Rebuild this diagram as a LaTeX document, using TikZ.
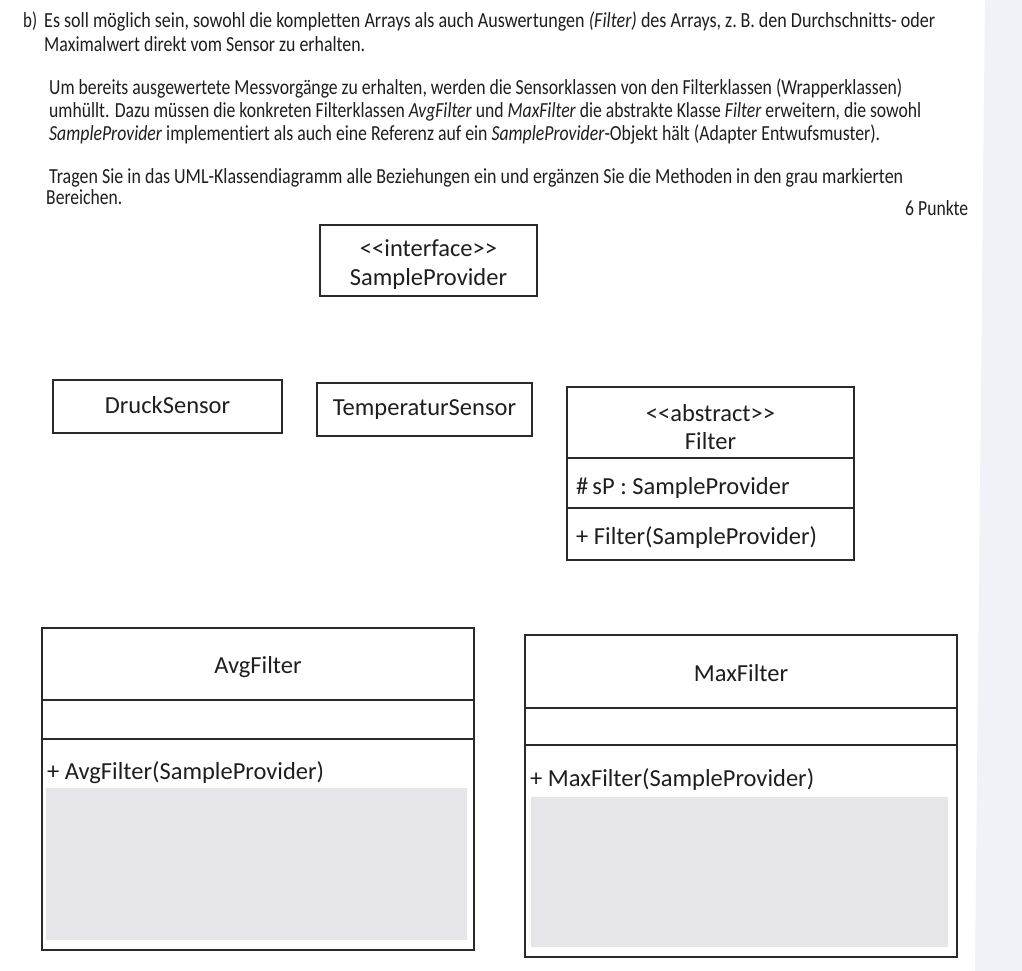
\documentclass[tikz,border=0pt]{standalone}
\usepackage{fontspec}
\usepackage{graphicx}
\setmainfont{Carlito}[Ligatures=TeXOff]
\newfontfamily\bodyfont{Carlito}[FakeStretch=0.84, Ligatures={TeXOff,NoCommon}]
\definecolor{inkcol}{HTML}{1E1E1E}
\definecolor{linecol}{HTML}{2A2A2A}
\definecolor{fillgray}{HTML}{E5E5EA}
\definecolor{stripcol}{HTML}{F1F1F8}
\newcommand{\lt}{<<}
\newcommand{\gt}{>>}
\newcommand{\bodyline}[2]{\resizebox{#1pt}{\height}{#2}}
\tikzset{
  umlbox/.style={draw=linecol, line width=1.4pt, inner sep=0, fill=none},
  grayarea/.style={fill=fillgray, draw=none, inner sep=0},
  boxtext/.style={font=\fontsize{24.5}{29}\selectfont, text=inkcol, inner sep=0, anchor=base},
  boxtextl/.style={boxtext, anchor=base west},
  body/.style={font=\bodyfont\fontsize{21.5}{25}\selectfont, text=inkcol, inner sep=0, anchor=base west},
  divider/.style={draw=linecol, line width=1.4pt}
}
\begin{document}
\begin{tikzpicture}[x=1pt,y=-1pt]
\useasboundingbox (0,0) rectangle (1022,971);
\fill[white] (0,0) rectangle (1022,971);
\fill[stripcol] (985,0) -- (1022,0) -- (1022,971) -- (975,971) -- cycle;

% task text
\node[body] (t0) at (23,28) {\bodyline{14}{b)}};
\node[body] (t1) at (44,28) {\bodyline{891}{Es soll möglich sein, sowohl die kompletten Arrays als auch Auswertungen \textit{(Filter)} des Arrays, z.\,B. den Durchschnitts- oder}};
\node[body] (t2) at (44,52) {\bodyline{321}{Maximalwert direkt vom Sensor zu erhalten.}};
\node[body] (t3) at (49,95) {\bodyline{853}{Um bereits ausgewertete Messvorgänge zu erhalten, werden die Sensorklassen von den Filterklassen (Wrapperklassen)}};
\node[body] (t4) at (49,118) {\bodyline{872}{umhüllt. Dazu müssen die konkreten Filterklassen \textit{AvgFilter} und \textit{MaxFilter} die abstrakte Klasse \textit{Filter} erweitern, die sowohl}};
\node[body] (t5) at (49,141) {\bodyline{831}{\textit{SampleProvider} implementiert als auch eine Referenz auf ein \textit{SampleProvider}-Objekt hält (Adapter Entwufsmuster).}};
\node[body] (t6) at (49,183) {\bodyline{854}{Tragen Sie in das UML-Klassendiagramm alle Beziehungen ein und ergänzen Sie die Methoden in den grau markierten}};
\node[body] (t7) at (46,204) {\bodyline{76}{Bereichen.}};
\node[body] (t8) at (905,215) {\bodyline{63}{6 Punkte}};

% SampleProvider
\node[umlbox, minimum width=217pt, minimum height=71pt] (sp) at (428.5,260.5) {};
\node[boxtext] (spa) at (428.5,256) {\lt interface\gt};
\node[boxtext] (spb) at (428.5,285) {SampleProvider};

% DruckSensor
\node[umlbox, minimum width=229pt, minimum height=53pt] (ds) at (167.5,406.5) {};
\node[boxtext] (dst) at (167.5,413) {DruckSensor};

% TemperaturSensor
\node[umlbox, minimum width=215pt, minimum height=53pt] (ts) at (424.5,409.5) {};
\node[boxtext] (tst) at (424.5,415) {TemperaturSensor};

% Filter
\node[umlbox, minimum width=287pt, minimum height=173pt] (fi) at (710.5,473.5) {};
\draw[divider] (fi.west |- 0,458) -- (fi.east |- 0,458);
\draw[divider] (fi.west |- 0,508) -- (fi.east |- 0,508);
\node[boxtext] (fia) at (710.5,421) {\lt abstract\gt};
\node[boxtext] (fib) at (710.5,449) {Filter};
\node[boxtextl] (fic) at (576,494) {\#\,sP : SampleProvider};
\node[boxtextl] (fid) at (576,544) {+ Filter(SampleProvider)};

% AvgFilter
\node[grayarea, minimum width=421pt, minimum height=152pt] (avgg) at (256.5,864) {};
\node[umlbox, minimum width=432pt, minimum height=322pt] (avg) at (258,789) {};
\draw[divider] (avg.west |- 0,700) -- (avg.east |- 0,700);
\draw[divider] (avg.west |- 0,739) -- (avg.east |- 0,739);
\node[boxtext] (avga) at (258,673) {AvgFilter};
\node[boxtextl] (avgb) at (47,779) {+ AvgFilter(SampleProvider)};

% MaxFilter
\node[grayarea, minimum width=417pt, minimum height=150pt] (maxg) at (739.5,872) {};
\node[umlbox, minimum width=432pt, minimum height=322pt] (max) at (741,796) {};
\draw[divider] (max.west |- 0,708) -- (max.east |- 0,708);
\draw[divider] (max.west |- 0,745) -- (max.east |- 0,745);
\node[boxtext] (maxa) at (741,681) {MaxFilter};
\node[boxtextl] (maxb) at (530,786) {+ MaxFilter(SampleProvider)};
\end{tikzpicture}
\end{document}
